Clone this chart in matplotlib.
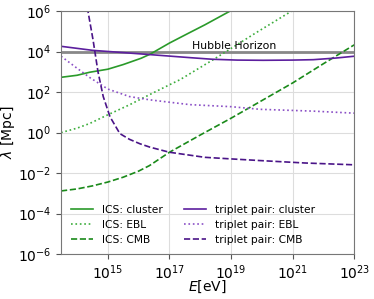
import matplotlib
matplotlib.use("Agg")
import matplotlib.pyplot as plt
import numpy as np

# log10(E [eV]) and log10(lambda [Mpc])
ics_cluster_logE = [13.48, 14.0, 14.41, 15.0, 15.5, 16.08, 16.37, 17.0, 17.61, 18.15, 18.97, 19.1]
ics_cluster_logL = [2.73, 2.83, 2.98, 3.13, 3.36, 3.67, 3.87, 4.42, 4.90, 5.32, 6.0, 6.1]

ics_ebl_logE = [13.48, 14.0, 14.41, 15.0, 15.7, 16.35, 17.0, 17.34, 18.42, 19.78, 20.97, 21.1]
ics_ebl_logL = [0.0, 0.22, 0.45, 0.88, 1.37, 1.87, 2.36, 2.61, 3.6, 4.9, 6.0, 6.1]

ics_cmb_logE = [13.48, 14.0, 14.5, 15.0, 15.5, 16.0, 16.35, 17.0, 18.0, 19.0, 20.0, 21.0, 22.0, 23.0]
ics_cmb_logL = [-2.88, -2.78, -2.63, -2.44, -2.2, -1.9, -1.63, -0.97, -0.12, 0.71, 1.58, 2.45, 3.4, 4.33]

tp_cluster_logE = [13.48, 14.51, 15.5, 16.37, 17.67, 18.4, 19.2, 20.04, 21.0, 21.67, 22.4, 23.0]
tp_cluster_logL = [4.26, 4.06, 3.95, 3.85, 3.70, 3.62, 3.58, 3.57, 3.58, 3.60, 3.68, 3.77]

tp_ebl_logE = [13.48, 13.98, 14.41, 15.0, 15.7, 16.35, 17.0, 17.67, 19.0, 19.94, 21.67, 23.0]
tp_ebl_logL = [3.77, 3.20, 2.72, 2.15, 1.78, 1.62, 1.50, 1.38, 1.28, 1.15, 1.06, 0.96]

tp_cmb_logE = [14.33, 14.52, 14.68, 14.85, 15.07, 15.39, 15.7, 16.04, 16.37, 17.0, 18.15, 19.02, 19.94, 21.4, 23.0]
tp_cmb_logL = [6.2, 4.57, 3.0, 1.78, 0.78, -0.05, -0.33, -0.55, -0.72, -0.97, -1.22, -1.30, -1.38, -1.50, -1.59]

hubble_horizon = 1e4
xticks = [1e15, 1e17, 1e19, 1e21, 1e23]
yticks = [1e-6, 1e-4, 1e-2, 1e0, 1e2, 1e4, 1e6]

series = [
    ("ICS: cluster", ics_cluster_logE, ics_cluster_logL, "#2a9a2a", "-"),
    ("ICS: EBL", ics_ebl_logE, ics_ebl_logL, "#3cad3c", ":"),
    ("ICS: CMB", ics_cmb_logE, ics_cmb_logL, "#1a8a1a", "--"),
    ("triplet pair: cluster", tp_cluster_logE, tp_cluster_logL, "#5c1f9e", "-"),
    ("triplet pair: EBL", tp_ebl_logE, tp_ebl_logL, "#8a4fc6", ":"),
    ("triplet pair: CMB", tp_cmb_logE, tp_cmb_logL, "#4a1488", "--"),
]

fig = plt.figure(figsize=(3.74, 2.99), dpi=100)
ax = fig.add_axes([0.163, 0.150, 0.784, 0.813])

for label, lx, ly, c, ls in series:
    ax.plot(10 ** np.array(lx), 10 ** np.array(ly), color=c, ls=ls, lw=1.2, label=label)

ax.axhline(hubble_horizon, color="#888888", lw=2.0, zorder=1)
ax.text(5.5e17, hubble_horizon * 1.08, "Hubble Horizon", fontsize=7.8, va="bottom", ha="left")

ax.set_xscale("log")
ax.set_yscale("log")
ax.set_xlim(3e13, 1e23)
ax.set_ylim(1e-6, 1e6)
ax.set_xticks(xticks)
ax.set_yticks(yticks)
ax.minorticks_off()
ax.grid(True, color="#dddddd", lw=0.8)
ax.set_axisbelow(True)
ax.tick_params(labelsize=10, length=3.5, color="#555555")
for s in ax.spines.values():
    s.set_color("#777777")
ax.set_xlabel("$E$[eV]", fontsize=10)
ax.set_ylabel(r"$\lambda$ [Mpc]", fontsize=10)
ax.xaxis.set_label_coords(0.5, -0.1)
ax.yaxis.set_label_coords(-0.15, 0.5)
ax.legend(loc="lower left", ncol=2, frameon=False, fontsize=7.7,
          handlelength=2.1, handletextpad=0.8, columnspacing=2.0,
          labelspacing=0.45, borderaxespad=0.5)

fig.savefig("out.png", dpi=100)
